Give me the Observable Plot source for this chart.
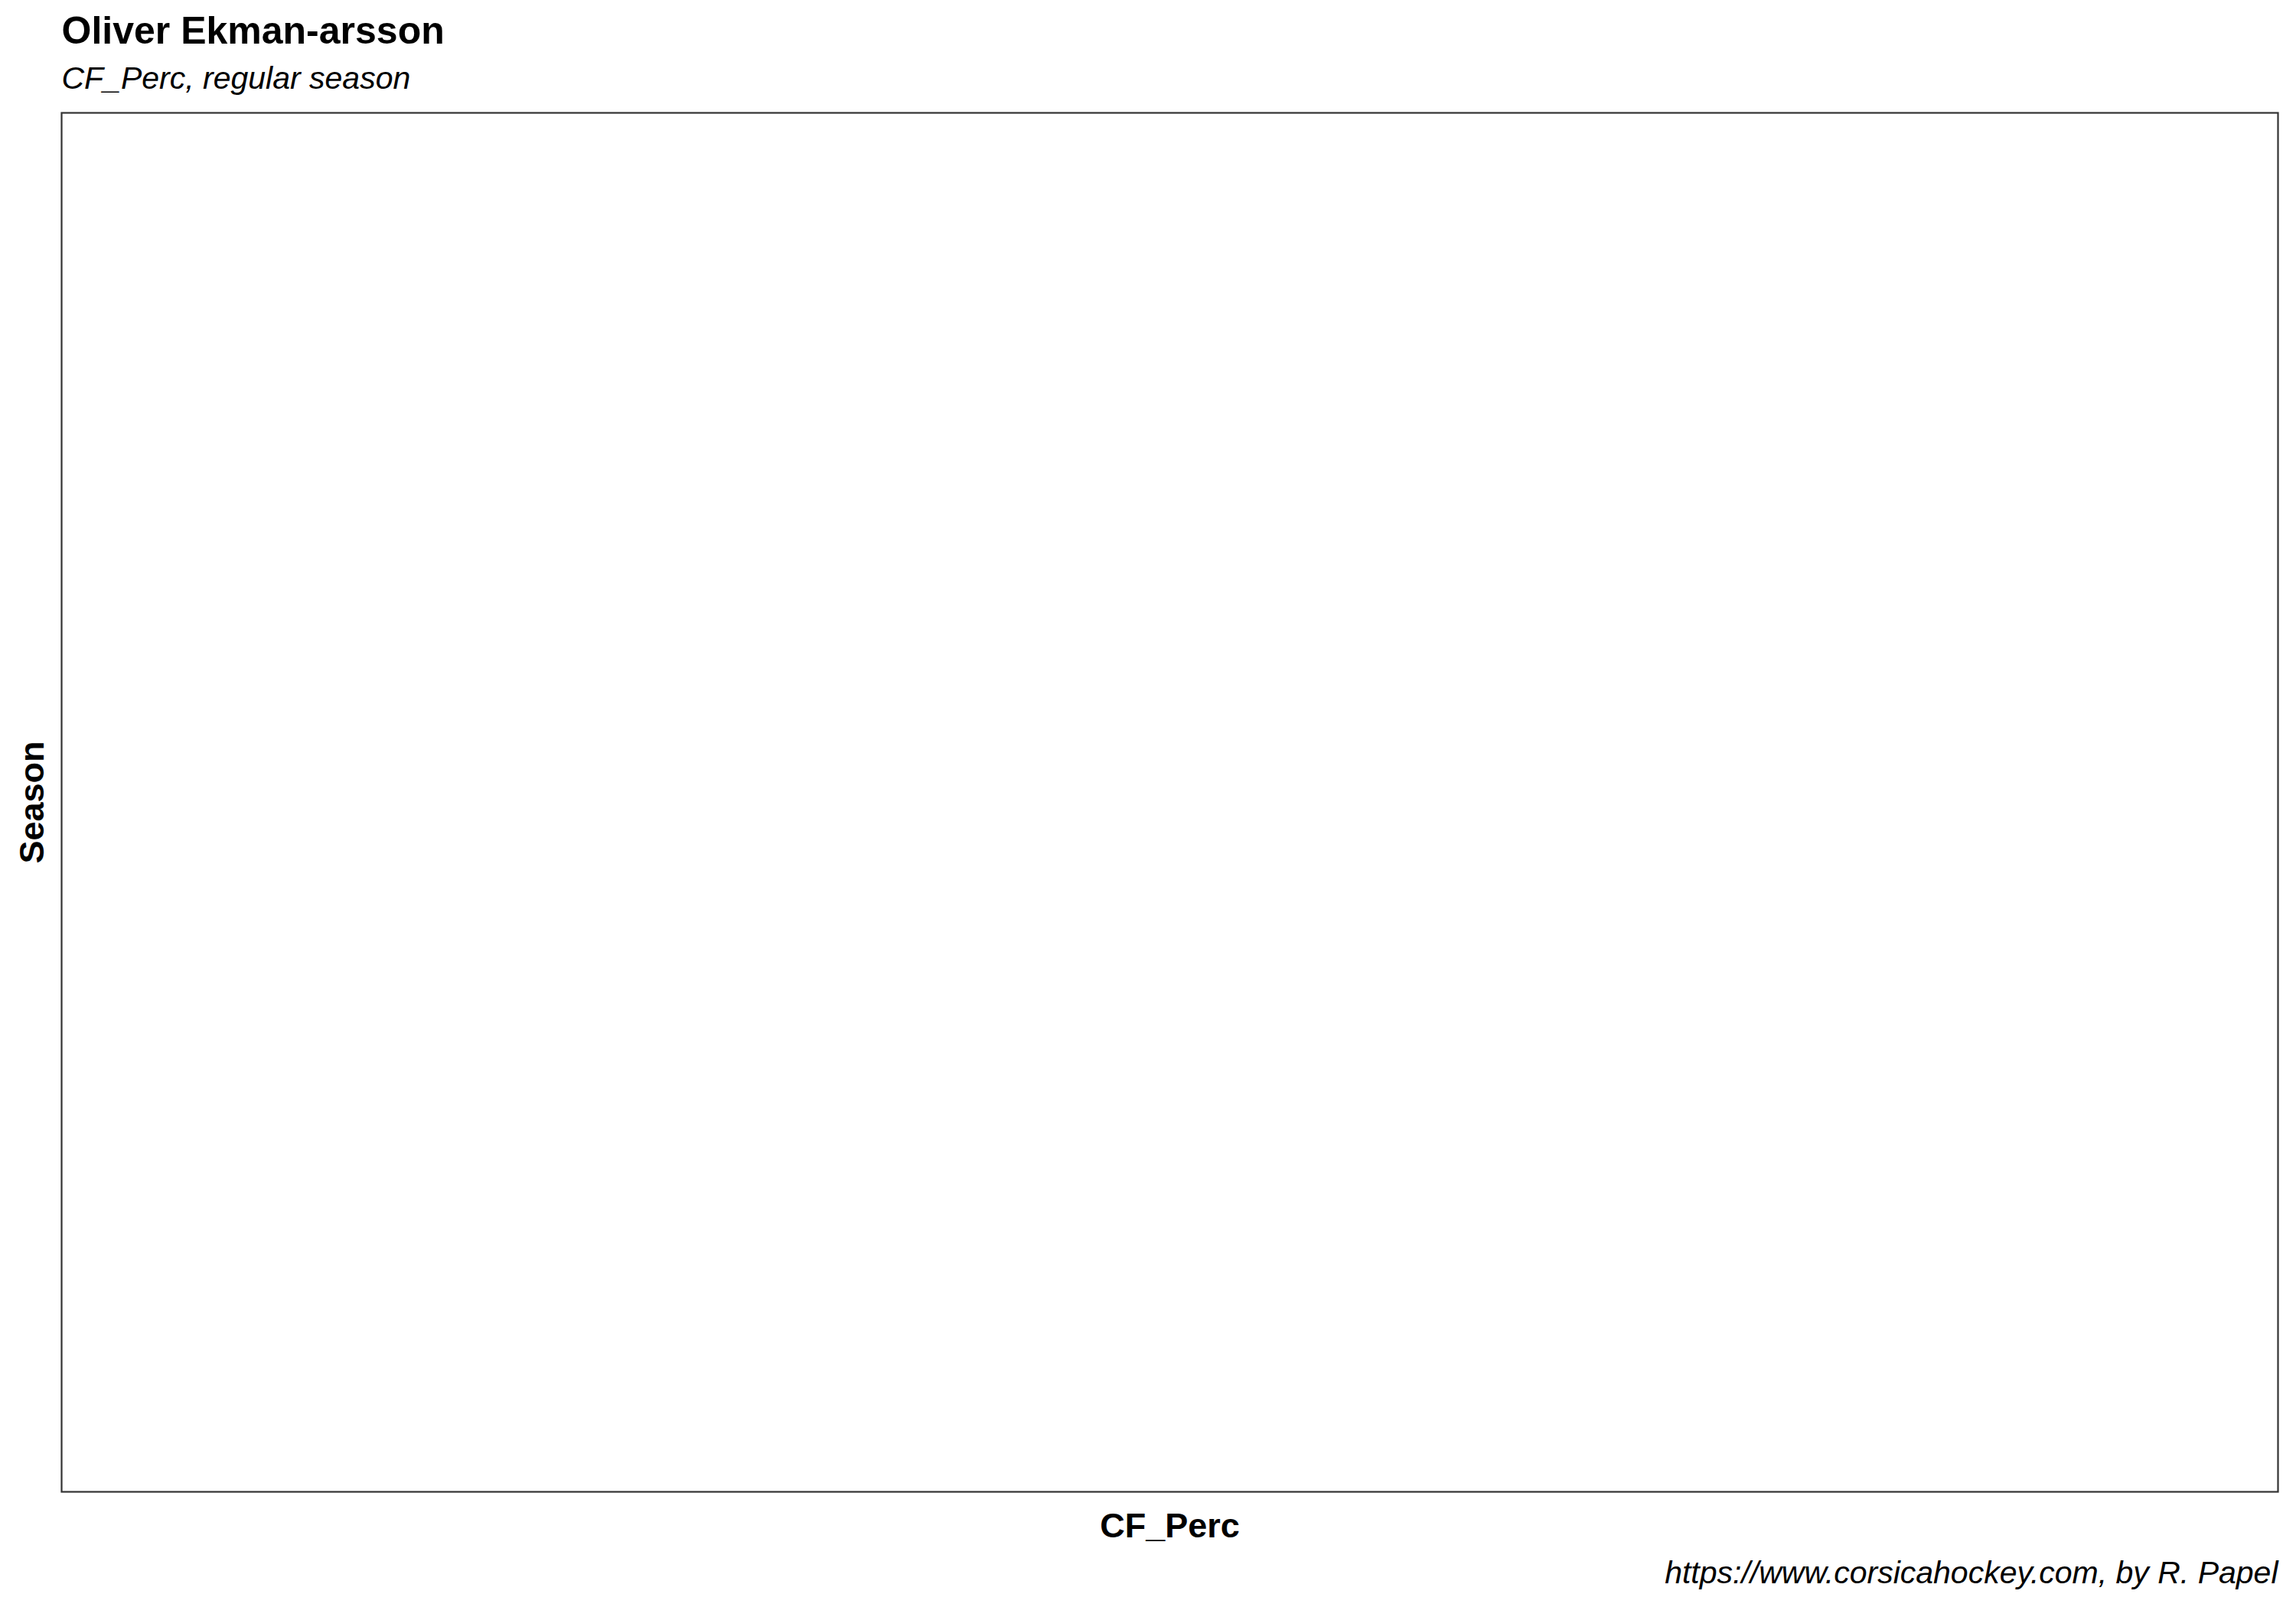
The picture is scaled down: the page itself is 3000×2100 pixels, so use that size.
<!DOCTYPE html>
<html>
<head>
<meta charset="utf-8">
<script src="https://cdn.jsdelivr.net/npm/d3@7"></script>
<script src="https://cdn.jsdelivr.net/npm/@observablehq/plot@0.6"></script>
<style>
  html, body { margin: 0; padding: 0; background: #fff; }
  #chart svg { display: block; }
</style>
</head>
<body>
<div id="chart"></div>
<script>
// The reference chart has no data: empty season / value lists.
const seasons = [];
const cfPerc = [];

const titleText = ["Oliver Ekman-arsson"];
const subtitleText = ["CF_Perc, regular season"];
const xLabel = ["CF_Perc"];
const yLabel = ["Season"];
const captionText = ["https://www.corsicahockey.com, by R. Papel"];

const data = seasons.map((s, i) => ({season: s, value: cfPerc[i]}));

const font = "Liberation Sans, Arial, Helvetica, sans-serif";

const chart = Plot.plot({
  width: 3000,
  height: 2100,
  marginLeft: 80,
  marginRight: 24,
  marginTop: 147,
  marginBottom: 151,
  style: {fontFamily: font, background: "#fff", color: "#000"},
  x: {axis: null, domain: [0, 1]},
  y: {axis: null, domain: [0, 1]},
  marks: [
    Plot.dot(data, {x: "value", y: "season"}),
    Plot.frame({stroke: "#333333", strokeWidth: 2.2}),
    Plot.text(titleText, {text: d => d, frameAnchor: "top-left", textAnchor: "start", lineAnchor: "bottom", dy: -91, fontSize: 50, fontWeight: "bold", fill: "#000"}),
    Plot.text(subtitleText, {text: d => d, frameAnchor: "top-left", textAnchor: "start", lineAnchor: "bottom", dy: -32, fontSize: 41, fontStyle: "italic", fill: "#000"}),
    Plot.text(xLabel, {text: d => d, frameAnchor: "bottom", textAnchor: "middle", lineAnchor: "bottom", dy: 59, fontSize: 45, fontWeight: "bold", fill: "#000"}),
    Plot.text(yLabel, {text: d => d, frameAnchor: "left", textAnchor: "middle", lineAnchor: "bottom", rotate: -90, dx: -24, fontSize: 45, fontWeight: "bold", fill: "#000"}),
    Plot.text(captionText, {text: d => d, frameAnchor: "bottom-right", textAnchor: "end", lineAnchor: "bottom", dy: 119, fontSize: 41, fontStyle: "italic", fill: "#000"})
  ]
});

document.getElementById("chart").appendChild(chart);
</script>
</body>
</html>
